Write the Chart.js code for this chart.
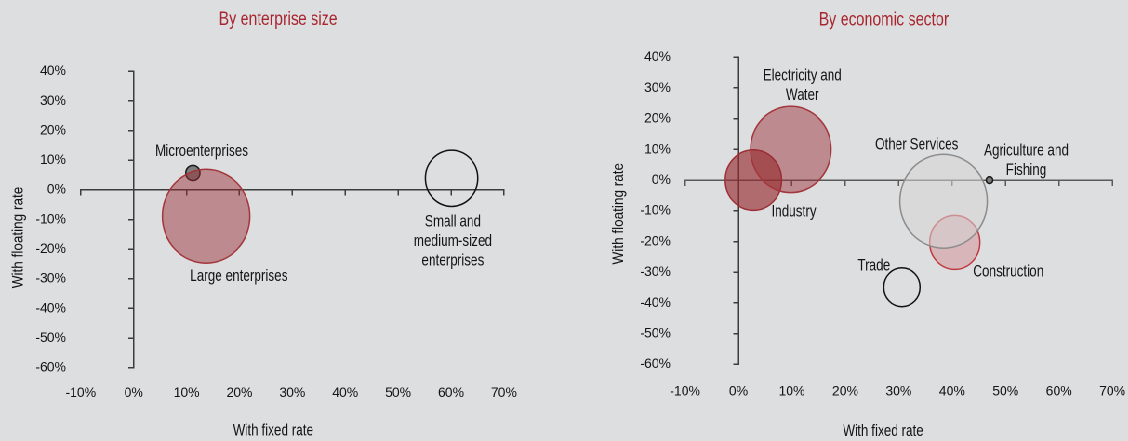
<!DOCTYPE html>
<html>
<head>
<meta charset="utf-8">
<title>Interest rate bubbles</title>
<script src="https://cdn.jsdelivr.net/npm/chart.js@4.4.1/dist/chart.umd.min.js"></script>
<style>
  html, body { margin: 0; padding: 0; overflow: hidden; width: 1128px; height: 441px; background: #dddee0; }
  /* both panels share one stage that is narrowed horizontally */
  #stage { position: absolute; left: 0; top: 0; width: 1213px; height: 441px; transform: scaleX(0.93); transform-origin: 0 0; }
  #stage canvas { position: absolute; left: 0; top: 0; }
</style>
</head>
<body>
<div id="stage">
  <canvas id="bySize" width="1213" height="441"></canvas>
  <canvas id="bySector" width="1213" height="441"></canvas>
</div>
<script>
// ---- By enterprise size ----
const sizeCategories = [['Microenterprises'], ['Large enterprises'], ['Small and', 'medium-sized', 'enterprises']];
const sizeFixedRate = [11.2, 13.7, 60.1];      // % with fixed rate
const sizeFloatingRate = [5.7, -8.9, 3.9];     // % with floating rate
const sizeShare = [1.9, 72.2, 25.9];           // bubble weight

// ---- By economic sector ----
const sectorCategories = [['Industry'], ['Electricity and', 'Water'], ['Trade'], ['Construction'], ['Other Services'], ['Agriculture and', 'Fishing']];
const sectorFixedRate = [2.8, 9.8, 30.6, 40.5, 38.4, 47.0];
const sectorFloatingRate = [0.0, 10.0, -34.9, -20.3, -6.9, 0.0];
const sectorShare = [15.0, 30.6, 6.2, 11.9, 36.1, 0.2];

// ---- Axis ticks (percent) ----
const xTickValues = [-10, 0, 10, 20, 30, 40, 50, 60, 70];
const yTickValues = [-60, -50, -40, -30, -20, -10, 0, 10, 20, 30, 40];

const FONT = "'Liberation Sans', Arial, sans-serif";
const TICK_SIZE = 14;
const TEXT_SIZE = 16.5;
const TITLE_SIZE = 19.5;
const NARROW = 0.82;     // condensed lettering for captions and titles
const TEXT = '#141414';
const MAX_RADIUS = 47;
const LABEL_BAND = 60;   // room reserved for the outer tick labels

function bubblePoints(xs, ys, weights) {
  const top = Math.max(...weights);
  return xs.map((x, i) => ({ x, y: ys[i], r: MAX_RADIUS * Math.sqrt(weights[i] / top) }));
}

function useTicks(values) {
  return scale => { scale.ticks = values.map(v => ({ value: v })); };
}

// fixed-size label band; edge labels may overhang without shrinking the plot
function fixedBand(scale) {
  if (scale.isHorizontal()) scale.height = LABEL_BAND; else scale.width = LABEL_BAND;
  scale.paddingLeft = scale.paddingRight = scale.paddingTop = scale.paddingBottom = 0;
}

function buildScales(o) {
  const xMin = xTickValues[0], xMax = xTickValues[xTickValues.length - 1];
  const yMin = yTickValues[0], yMax = yTickValues[yTickValues.length - 1];
  const pct = v => v + '%';
  const tickFont = { family: FONT, size: TICK_SIZE };
  return {
    // axis lines crossing at the origin, with tick marks only
    x: {
      type: 'linear', axis: 'x', min: xMin, max: xMax, position: { y: 0 },
      afterBuildTicks: useTicks(xTickValues),
      ticks: { display: false },
      grid: { drawOnChartArea: false, drawTicks: true, tickLength: 5, color: o.xLine, lineWidth: 1.5 },
      border: { display: true, color: o.xLine, width: 1.5 }
    },
    y: {
      type: 'linear', axis: 'y', min: yMin, max: yMax, position: { x: 0 },
      afterBuildTicks: useTicks(yTickValues),
      ticks: { display: false },
      grid: { drawOnChartArea: false, drawTicks: true, tickLength: 5, color: o.yLine, lineWidth: 1.5 },
      border: { display: true, color: o.yLine, width: 1.5 }
    },
    // tick labels along the outer edges of the plot
    xLabels: {
      type: 'linear', axis: 'x', position: 'bottom', min: xMin, max: xMax,
      afterBuildTicks: useTicks(xTickValues), afterFit: fixedBand,
      ticks: { callback: pct, padding: o.xPad, font: tickFont, color: TEXT, autoSkip: false, maxRotation: 0 },
      grid: { display: false, drawTicks: false }, border: { display: false }
    },
    yLabels: {
      type: 'linear', axis: 'y', position: 'left', min: yMin, max: yMax,
      afterBuildTicks: useTicks(yTickValues), afterFit: fixedBand,
      ticks: { callback: pct, padding: o.yPad, font: tickFont, color: TEXT, autoSkip: false },
      grid: { display: false, drawTicks: false }, border: { display: false }
    }
  };
}

// condensed text centred on (x, y), optionally rotated
function narrowText(ctx, text, x, y, angle) {
  ctx.save();
  ctx.translate(x, y);
  if (angle) ctx.rotate(angle);
  ctx.scale(NARROW, 1);
  ctx.fillText(text, 0, 0);
  ctx.restore();
}

// titles, axis titles and bubble captions
function panelText(cfg) {
  return {
    id: 'panelText',
    afterDatasetsDraw(chart) {
      const ctx = chart.ctx;
      ctx.save();
      ctx.textAlign = 'center';
      ctx.textBaseline = 'middle';

      ctx.fillStyle = '#a8262f';
      ctx.font = `${TITLE_SIZE}px ${FONT}`;
      narrowText(ctx, cfg.title, cfg.titleAt[0], cfg.titleAt[1]);

      ctx.fillStyle = TEXT;
      ctx.font = `${TEXT_SIZE}px ${FONT}`;
      narrowText(ctx, cfg.xTitle, cfg.xTitleAt[0], cfg.xTitleAt[1]);
      narrowText(ctx, cfg.yTitle, cfg.yTitleAt[0], cfg.yTitleAt[1], -Math.PI / 2);

      const meta = chart.getDatasetMeta(0);
      meta.data.forEach((pt, i) => {
        const lines = cfg.labels[i];
        const [dx, dy] = cfg.offsets[i];
        lines.forEach((line, k) => {
          narrowText(ctx, line, pt.x + dx, pt.y + dy + (k - (lines.length - 1) / 2) * 19.5);
        });
      });
      ctx.restore();
    }
  };
}

function makeChart(id, o) {
  const a = o.area;
  return new Chart(document.getElementById(id), {
    type: 'bubble',
    data: {
      datasets: [{
        data: o.points,
        backgroundColor: o.fill,
        borderColor: o.stroke,
        borderWidth: 1.5,
        hoverBorderWidth: 1.5,
        clip: false
      }]
    },
    options: {
      responsive: false,
      devicePixelRatio: 2,
      animation: false,
      events: [],
      // plot edges = padding + label bands
      layout: {
        autoPadding: false,
        padding: { left: a.left - LABEL_BAND, right: a.right, top: a.top, bottom: a.bottom - LABEL_BAND }
      },
      plugins: { legend: { display: false }, title: { display: false }, tooltip: { enabled: false } },
      scales: buildScales(o)
    },
    plugins: [panelText(o.text)]
  });
}

makeChart('bySize', {
  points: bubblePoints(sizeFixedRate, sizeFloatingRate, sizeShare),
  fill: ['#7d7d7d', 'rgba(150,45,50,0.47)', 'rgba(0,0,0,0)'],
  stroke: ['#1a1a1a', '#a3353b', '#111111'],
  area: { left: 86.8, right: 671.1, top: 71.3, bottom: 73.3 },
  xLine: '#3c3c3c', yLine: '#3c3c3c', xPad: 17.2, yPad: 15.8,
  text: {
    title: 'By enterprise size', titleAt: [299.1, 19.5],
    xTitle: 'With fixed rate', xTitleAt: [293.8, 431],
    yTitle: 'With floating rate', yTitleAt: [19.8, 237.5],
    labels: sizeCategories,
    offsets: [[9.6, -21.5], [35.2, 60], [1.3, 63]]
  }
});

makeChart('bySector', {
  points: bubblePoints(sectorFixedRate, sectorFloatingRate, sectorShare),
  fill: ['rgba(150,42,47,0.64)', 'rgba(150,45,50,0.47)', 'rgba(0,0,0,0)', 'rgba(200,60,66,0.25)', 'rgba(214,214,214,0.55)', '#7d7d7d'],
  stroke: ['#9e2f35', '#a3353b', '#111111', '#c0393f', '#8c8c8c', '#1a1a1a'],
  area: { left: 736.6, right: 16.9, top: 57.3, bottom: 76.7 },
  xLine: '#5a5a5a', yLine: '#3c3c3c', xPad: 19, yPad: 15.6,
  text: {
    title: 'By economic sector', titleAt: [950.4, 20],
    xTitle: 'With fixed rate', xTitleAt: [949.6, 431.7],
    yTitle: 'With floating rate', yTitleAt: [665.5, 213.7],
    labels: sectorCategories,
    offsets: [[43.4, 32], [12.4, -63.5], [-30, -21.2], [57.6, 29.5], [-28.9, -56.3], [39.5, -19.3]]
  }
});
</script>
</body>
</html>
